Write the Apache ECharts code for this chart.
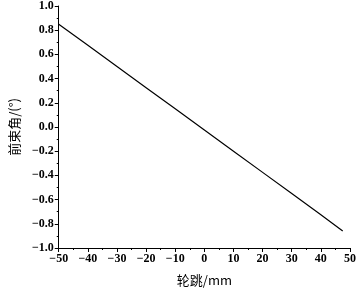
<!DOCTYPE html>
<html><head><meta charset="utf-8">
<script src="https://cdn.jsdelivr.net/npm/echarts@6/dist/echarts.min.js"></script>
<style>html,body{margin:0;padding:0;background:#fff}#c{width:360px;height:292px}</style>
</head><body><div id="c"></div>
<script>
var wheelTravel = [-50, -40, -30, -20, -10, 0, 10, 20, 30, 40, 47.5];
var toeAngle = [0.85, 0.675, 0.50, 0.325, 0.15, -0.025, -0.20, -0.375, -0.55, -0.725, -0.86];
var xName = '轮跳/mm';
var yName = '前束角/(°)';

var chart = echarts.init(document.getElementById('c'));
var fmt = function (v) { return String(v).replace('-', '\u2212'); };
chart.setOption({
  animation: false,
  grid: { left: 46, right: 10, top: 5, bottom: 40 },
  xAxis: {
    type: 'value', min: -50, max: 50, interval: 10,
    name: xName, nameLocation: 'middle', nameGap: 26,
    nameTextStyle: { fontFamily: 'Noto Sans CJK SC', fontSize: 13, color: '#000' },
    axisLine: { onZero: false, lineStyle: { color: '#000', width: 1 } },
    axisTick: { show: true, inside: false, length: 4, lineStyle: { color: '#000' } },
    minorTick: { show: true, splitNumber: 2, length: 2, lineStyle: { color: '#000' } },
    splitLine: { show: false },
    axisLabel: { fontFamily: 'Liberation Serif', fontWeight: 'bold', fontSize: 12, color: '#000', margin: 5, formatter: fmt }
  },
  yAxis: {
    type: 'value', min: -1, max: 1, interval: 0.2,
    name: yName, nameLocation: 'middle', nameGap: 33, nameRotate: 90,
    nameTextStyle: { fontFamily: 'Noto Sans CJK SC', fontSize: 13, color: '#000' },
    axisLine: { show: true, onZero: false, lineStyle: { color: '#000', width: 1 } },
    axisTick: { show: true, inside: false, length: 4, lineStyle: { color: '#000' } },
    minorTick: { show: true, splitNumber: 2, length: 2, lineStyle: { color: '#000' } },
    splitLine: { show: false },
    axisLabel: { fontFamily: 'Liberation Serif', fontWeight: 'bold', fontSize: 12, color: '#000', margin: 5,
      formatter: function (v) { return fmt(v.toFixed(1)); } }
  },
  series: [{
    type: 'line',
    data: wheelTravel.map(function (x, i) { return [x, toeAngle[i]]; }),
    showSymbol: false,
    lineStyle: { color: '#000', width: 1.2 }
  }]
});
</script></body></html>
